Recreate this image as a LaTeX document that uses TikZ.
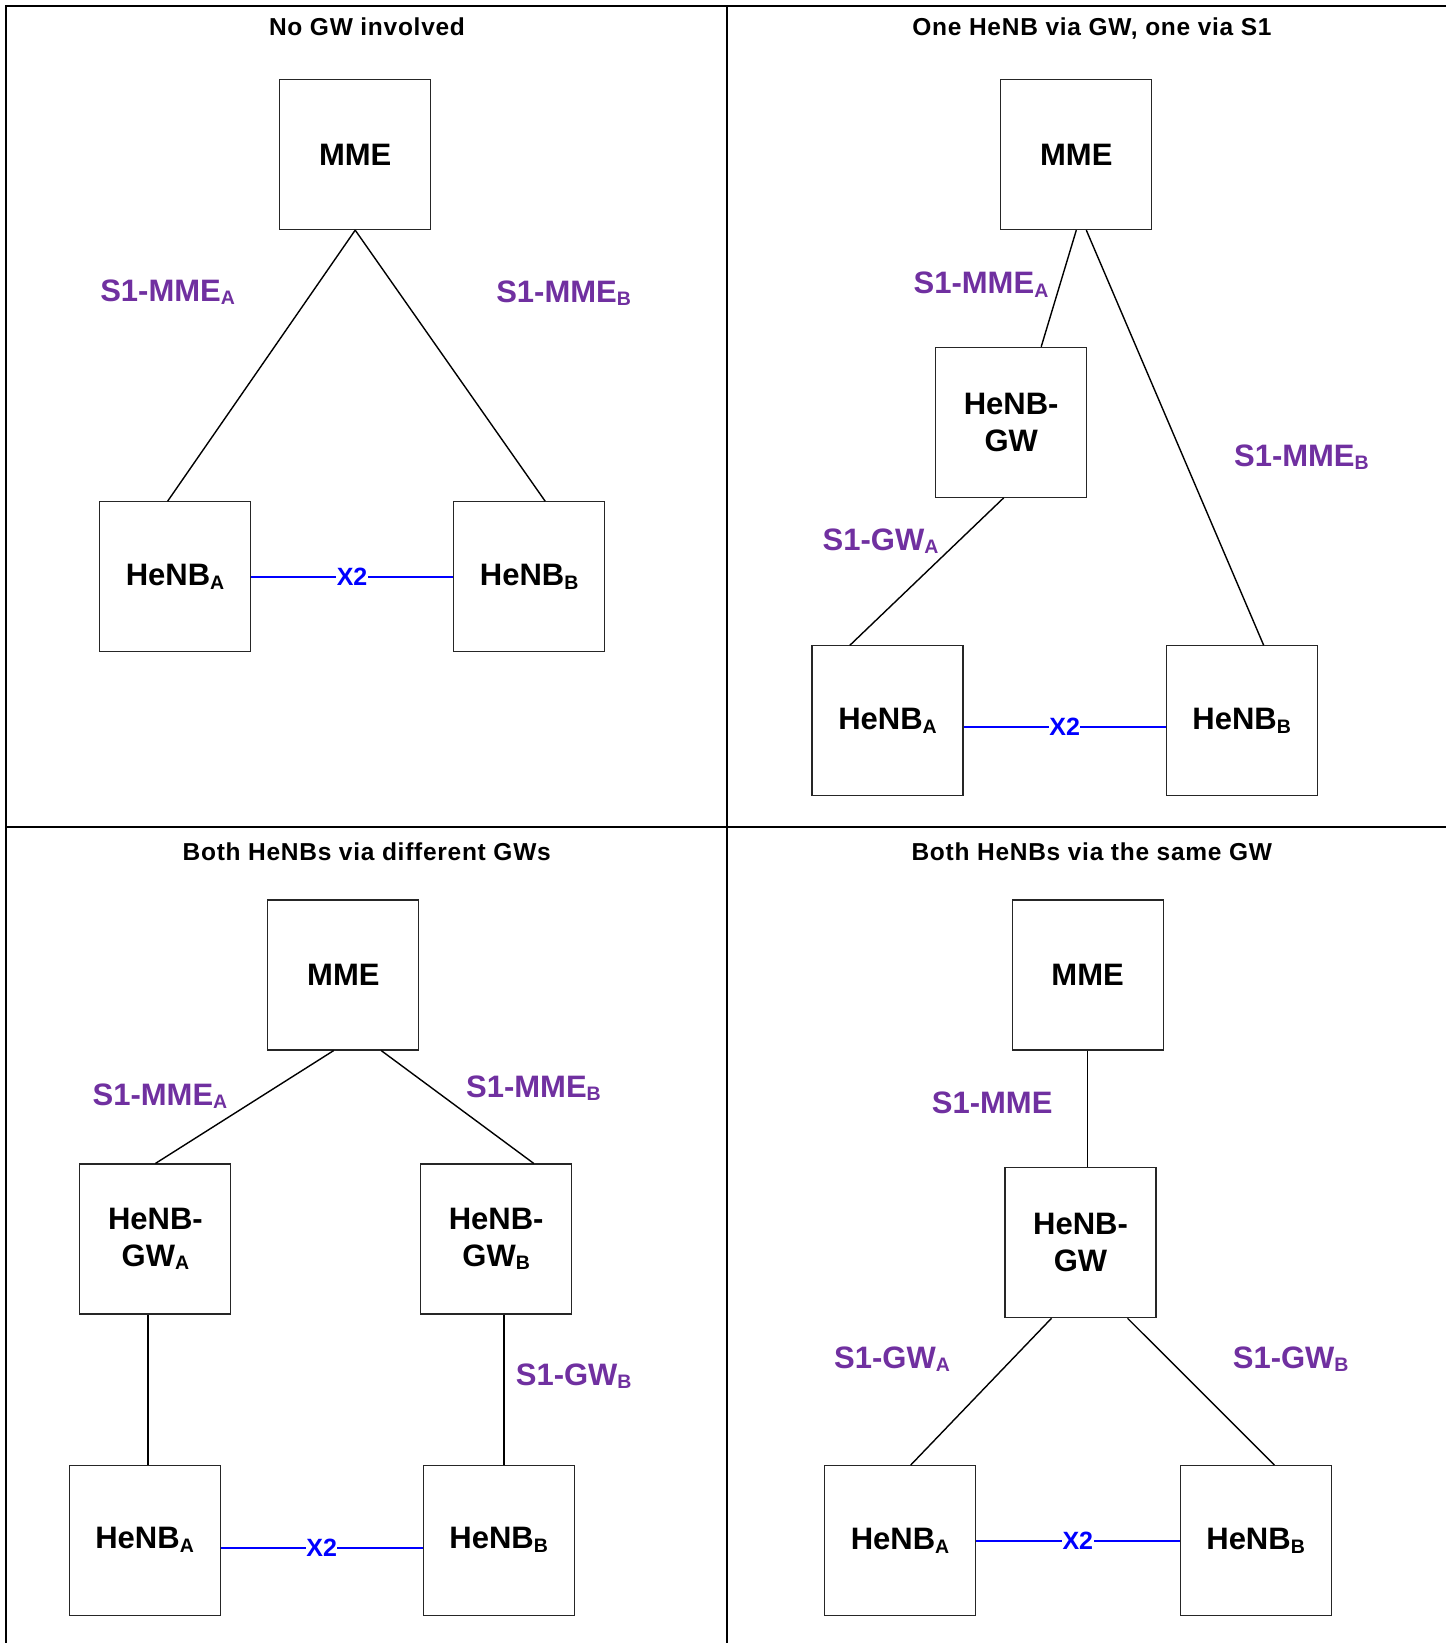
\documentclass[tikz,border=0pt]{standalone}
\usepackage{fontspec}
\setmainfont{Liberation Sans}
\usetikzlibrary{calc}

\definecolor{ifpurple}{HTML}{7030A0}
\definecolor{xblue}{HTML}{0000FF}

% font sizes (1pt = 1 unit of the drawing)
\newcommand\fBox{\fontsize{31}{36.7}\selectfont\bfseries}
\newcommand\fIface{\fontsize{31}{36}\selectfont\bfseries}
\newcommand\fXtwo{\fontsize{25}{30}\selectfont\bfseries}
\newcommand\fTitle{\fontsize{24.5}{29}\selectfont\bfseries\addfontfeature{LetterSpace=3}}
% lowered index letter
\newcommand\subl[1]{\raisebox{-3.8pt}{\fontsize{19.5}{21}\selectfont #1}}

\tikzset{
  box/.style={draw=black!85, line width=1.1pt, minimum width=151pt,
    minimum height=150pt, inner sep=0pt, font=\fBox, align=center},
  link/.style={line width=1.4pt},
  xtwo/.style={draw=xblue, line width=1.8pt},
  xlbl/.style={fill=white, text=xblue, font=\fXtwo, inner sep=0.5pt},
  iface/.style={text=ifpurple, font=\fIface, anchor=base, inner sep=0pt},
  ptitle/.style={font=\fTitle, anchor=base, inner sep=0pt},
  frameline/.style={line width=2.2pt}
}

\begin{document}
\begin{tikzpicture}[x=1pt, y=-1pt]
\useasboundingbox (0,0) rectangle (1446,1643);

% panel grid
\draw[frameline] (1446,5.7) -- (5.7,5.7) -- (5.7,1643);
\draw[frameline] (727,5.7) -- (727,1643);
\draw[frameline] (5.7,826.7) -- (1446,826.7);

% ---------- No GW involved ----------
\node[ptitle] (t1) at (367,36) {No GW involved};
\node[box] (mme1) at (355.2,154.6) {MME};
\node[box] (nbA1) at (175,576.8) {HeNB\subl{A}};
\node[box] (nbB1) at (529.2,576.8) {HeNB\subl{B}};
\draw[link] (mme1.south) -- ([xshift=-7.4pt]nbA1.north);
\draw[link] (mme1.south) -- ([xshift=16pt]nbB1.north);
\draw[xtwo] (nbA1.east) -- node[xlbl] (x1) {X2} (nbB1.west);
\node[iface] (l1a) at (167.6,301) {S1-MME\subl{A}};
\node[iface] (l1b) at (563.6,302) {S1-MME\subl{B}};

% ---------- One HeNB via GW, one via S1 ----------
\node[ptitle] (t2) at (1092,36) {One HeNB via GW, one via S1};
\node[box] (mme2) at (1076.3,154.6) {MME};
\node[box] (gw2) at (1011.2,422.3) {HeNB-\\GW};
\node[box] (nbA2) at (887.5,720.9) {HeNB\subl{A}};
\node[box] (nbB2) at (1241.7,720.9) {HeNB\subl{B}};
\draw[link] (mme2.south) -- ([xshift=30pt]gw2.north);
\draw[link] ([xshift=10pt]mme2.south) -- ([xshift=22pt]nbB2.north);
\draw[link] ([xshift=-7.5pt]gw2.south) -- ([xshift=-37.7pt]nbA2.north);
\draw[xtwo] ([yshift=-6pt]nbA2.east) -- node[xlbl] (x2) {X2} ([yshift=-6pt]nbB2.west);
\node[iface] (l2a) at (981,293.5) {S1-MME\subl{A}};
\node[iface] (l2b) at (1301.4,466) {S1-MME\subl{B}};
\node[iface] (l2c) at (880.5,550) {S1-GW\subl{A}};

% ---------- Both HeNBs via different GWs ----------
\node[ptitle] (t3) at (366.7,860) {Both HeNBs via different GWs};
\node[box] (mme3) at (343.4,975) {MME};
\node[box] (gwA3) at (155.4,1239) {HeNB-\\GW\subl{A}};
\node[box] (gwB3) at (496.2,1239) {HeNB-\\GW\subl{B}};
\node[box] (nbA3) at (144.6,1540.2) {HeNB\subl{A}};
\node[box] (nbB3) at (498.7,1540.2) {HeNB\subl{B}};
\draw[link] ([xshift=-9.7pt]mme3.south) -- (gwA3.north);
\draw[link] ([xshift=37.8pt]mme3.south) -- ([xshift=37.6pt]gwB3.north);
\draw[link] ([xshift=-7.4pt]gwA3.south) -- ([xshift=-7.4pt]gwA3.south |- nbA3.north);
\draw[link] ([xshift=7.6pt]gwB3.south) -- ([xshift=7.6pt]gwB3.south |- nbB3.north);
\draw[xtwo] ([yshift=-7.4pt]nbA3.east) -- node[xlbl] (x3) {X2} ([yshift=-7.4pt]nbB3.west);
\node[iface] (l3a) at (160,1105) {S1-MME\subl{A}};
\node[iface] (l3b) at (533.5,1097) {S1-MME\subl{B}};
\node[iface] (l3c) at (573.7,1385) {S1-GW\subl{B}};

% ---------- Both HeNBs via the same GW ----------
\node[ptitle] (t4) at (1091.8,860) {Both HeNBs via the same GW};
\node[box] (mme4) at (1087.6,975) {MME};
\node[box] (gw4) at (1080.5,1242.7) {HeNB-\\GW};
\node[box] (nbA4) at (900,1540.6) {HeNB\subl{A}};
\node[box] (nbB4) at (1255.6,1540.6) {HeNB\subl{B}};
\draw[link] (mme4.south) -- (mme4.south |- gw4.north);
\draw[link] ([xshift=-29pt]gw4.south) -- ([xshift=10.7pt]nbA4.north);
\draw[link] ([xshift=47pt]gw4.south) -- ([xshift=18.8pt]nbB4.north);
\draw[xtwo] (nbA4.east) -- node[xlbl] (x4) {X2} (nbB4.west);
\node[iface] (l4a) at (992.2,1113.5) {S1-MME};
\node[iface] (l4b) at (892,1368) {S1-GW\subl{A}};
\node[iface] (l4c) at (1290.7,1368) {S1-GW\subl{B}};

\end{tikzpicture}
\end{document}
